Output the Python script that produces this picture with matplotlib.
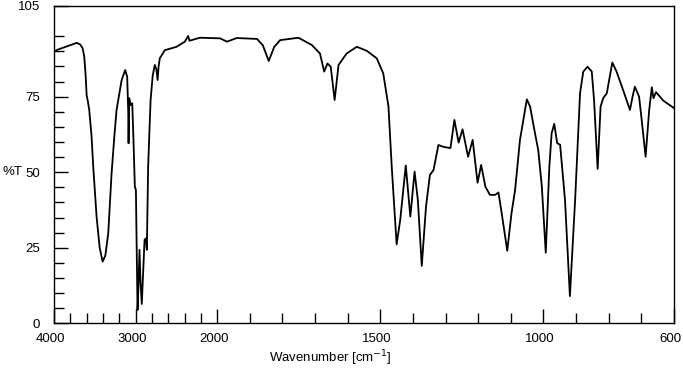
import numpy as np
import matplotlib
matplotlib.use("Agg")
import matplotlib.pyplot as plt
from matplotlib.ticker import FixedLocator
from matplotlib.transforms import ScaledTranslation

plt.rcParams['font.family'] = ['Liberation Sans', 'DejaVu Sans']

# IR spectrum: wavenumber [cm-1] and %T
wavenumber = [4000, 3950, 3845, 3722, 3680, 3649, 3629, 3612, 3600, 3585,
              3568, 3540, 3519, 3478, 3440, 3404, 3370, 3335, 3294, 3260,
              3233, 3171, 3127, 3103, 3090, 3086, 3082, 3078, 3061, 3041,
              3025, 3009, 2996, 2986, 2976, 2965, 2952, 2940, 2924, 2905,
              2890, 2874, 2862, 2846, 2816, 2790, 2764, 2745, 2730, 2718,
              2703, 2641, 2560, 2498, 2396, 2355, 2340, 2314, 2212, 2100,
              1991, 1970, 1940, 1878, 1860, 1842, 1825, 1807, 1751, 1710,
              1685, 1672, 1662, 1652, 1640, 1628, 1603, 1572, 1542, 1511,
              1491, 1475, 1465, 1450, 1439, 1422, 1408, 1395, 1385, 1373,
              1360, 1348, 1337, 1322, 1307, 1292, 1285, 1273, 1260, 1248,
              1231, 1217, 1202, 1191, 1178, 1164, 1148, 1138, 1128, 1111,
              1098, 1087, 1072, 1051, 1041, 1026, 1016, 1005, 993, 982,
              975, 967, 958, 949, 934, 919, 903, 888, 878, 865,
              852, 845, 834, 825, 817, 806, 789, 776, 756, 735,
              727, 720, 707, 699, 687, 676, 668, 663, 655, 633,
              612, 600]
transmittance = [90.0, 90.6, 91.6, 92.8, 92.3, 91.0, 88.2, 82.0, 75.5, 73.5,
                 70.6, 62.0, 51.8, 35.3, 25.0, 20.4, 22.5, 29.8, 49.7, 62.0,
                 70.6, 80.5, 83.8, 81.6, 70.0, 59.6, 68.0, 74.5, 72.2, 72.8,
                 60.0, 45.2, 44.1, 25.0, 4.4, 12.0, 24.3, 14.0, 6.4, 18.0,
                 27.6, 28.1, 24.3, 51.8, 73.9, 82.0, 85.5, 84.0, 80.5, 85.0,
                 87.7, 90.4, 91.0, 91.5, 93.2, 95.1, 93.5, 93.7, 94.5, 94.4,
                 94.3, 93.2, 94.4, 94.1, 92.0, 86.8, 91.5, 93.7, 94.5, 92.1,
                 89.3, 83.3, 86.0, 84.9, 73.9, 85.5, 89.3, 91.5, 90.2, 87.7,
                 82.7, 71.7, 51.8, 26.1, 34.2, 52.2, 35.3, 50.2, 40.8, 19.0,
                 38.6, 49.1, 50.7, 59.0, 58.4, 58.1, 58.0, 67.3, 59.8, 64.2,
                 55.1, 60.7, 46.5, 52.4, 45.2, 42.5, 42.5, 43.3, 36.4, 24.0,
                 36.4, 44.1, 60.7, 74.1, 71.7, 62.9, 57.3, 45.2, 23.4, 51.8,
                 62.9, 66.0, 59.6, 59.1, 40.8, 9.0, 40.8, 76.1, 83.3, 84.9,
                 83.3, 73.9, 51.1, 71.7, 74.5, 76.1, 86.3, 83.3, 77.2, 70.6,
                 75.0, 78.3, 75.0, 67.3, 55.1, 70.6, 78.1, 74.5, 76.5, 73.7,
                 72.1, 71.2]

x_major = [4000, 3000, 2000, 1500, 1000, 600]
x_minor = [3800, 3600, 3400, 3200, 2800, 2600, 2400, 2200,
           1900, 1800, 1700, 1600, 1400, 1300, 1200, 1100, 900, 800, 700]
y_major = [0, 25, 50, 75, 105]
y_minor = [v for v in range(5, 105, 5) if v % 25 != 0]


# 4000-2000 compressed 4x relative to 2000-600
def fwd(x):
    x = np.asarray(x, dtype=float)
    return np.where(x > 2000, 1400 + (x - 2000) / 4.0, x - 600)


def inv(u):
    u = np.asarray(u, dtype=float)
    return np.where(u > 1400, 2000 + (u - 1400) * 4.0, u + 600)


fig = plt.figure(figsize=(6.83, 3.76), dpi=100)
ax = fig.add_axes([54 / 683, 52.7 / 376, 620 / 683, 317.3 / 376])
ax.set_xscale('function', functions=(fwd, inv))
ax.plot(wavenumber, transmittance, color='black', lw=1.3)
ax.set_xlim(4000, 600)
ax.set_ylim(0, 105)

ax.xaxis.set_major_locator(FixedLocator(x_major))
ax.xaxis.set_minor_locator(FixedLocator(x_minor))
ax.set_xticklabels([str(v) for v in x_major])
ax.yaxis.set_major_locator(FixedLocator(y_major))
ax.yaxis.set_minor_locator(FixedLocator(y_minor))
ax.set_yticklabels([str(v) for v in y_major])

ax.tick_params(axis='both', which='major', direction='in', length=10,
               width=1, labelsize=9.5, color='black')
ax.tick_params(axis='both', which='minor', direction='in', length=7,
               width=1, color='black')
ax.tick_params(axis='x', which='major', pad=7)
ax.tick_params(axis='y', which='major', pad=10)
for s in ax.spines.values():
    s.set_linewidth(1)

# x tick labels sit a few pixels left of their ticks in the original
shift = ScaledTranslation(-3.5 / 100, 0, fig.dpi_scale_trans)
for lab in ax.get_xticklabels():
    lab.set_transform(lab.get_transform() + shift)

fig.text(330 / 683, 1 - 358 / 376, 'Wavenumber [cm$^{-1}$]', ha='center',
         va='center', fontsize=9.5)
fig.text(12 / 683, 1 - 172 / 376, '%T', ha='center', va='center', fontsize=9.5)

fig.savefig('out.png', dpi=100)
